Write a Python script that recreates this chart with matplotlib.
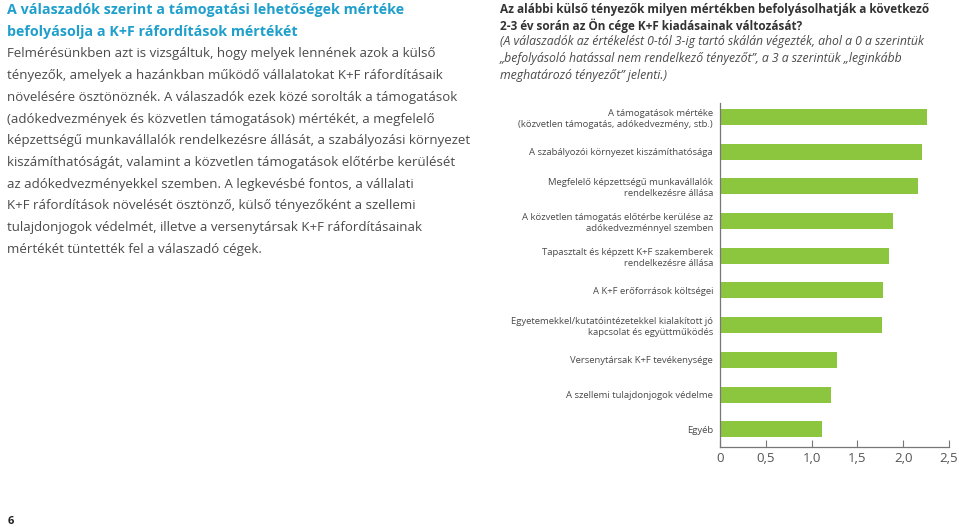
import matplotlib.pyplot as plt

categories = [
    "A támogatások mértéke\n(közvetlen támogatás, adókedvezmény, stb.)",
    "A szabályozói környezet kiszámíthatósága",
    "Megfelelő képzettségű munkavállalók\nrendelkezésre állása",
    "A közvetlen támogatás előtérbe kerülése az\nadókedvezménnyel szemben",
    "Tapasztalt és képzett K+F szakemberek\nrendelkezésre állása",
    "A K+F erőforrások költségei",
    "Egyetemekkel/kutatóintézetekkel kialakított jó\nkapcsolat és együttműködés",
    "Versenytársak K+F tevékenysége",
    "A szellemi tulajdonjogok védelme",
    "Egyéb",
]
values = [2.26, 2.21, 2.16, 1.89, 1.85, 1.78, 1.77, 1.28, 1.21, 1.11]
ticks = [0, 0.5, 1.0, 1.5, 2.0, 2.5]
tick_labels = ["0", "0,5", "1,0", "1,5", "2,0", "2,5"]

left_title = [
    "A válaszadók szerint a támogatási lehetőségek mértéke",
    "befolyásolja a K+F ráfordítások mértékét",
]
left_body = [
    "Felmérésünkben azt is vizsgáltuk, hogy melyek lennének azok a külső",
    "tényezők, amelyek a hazánkban működő vállalatokat K+F ráfordításaik",
    "növelésére ösztönöznék. A válaszadók ezek közé sorolták a támogatások",
    "(adókedvezmények és közvetlen támogatások) mértékét, a megfelelő",
    "képzettségű munkavállalók rendelkezésre állását, a szabályozási környezet",
    "kiszámíthatóságát, valamint a közvetlen támogatások előtérbe kerülését",
    "az adókedvezményekkel szemben. A legkevésbé fontos, a vállalati",
    "K+F ráfordítások növelését ösztönző, külső tényezőként a szellemi",
    "tulajdonjogok védelmét, illetve a versenytársak K+F ráfordításainak",
    "mértékét tüntették fel a válaszadó cégek.",
]
chart_title = [
    "Az alábbi külső tényezők milyen mértékben befolyásolhatják a következő",
    "2-3 év során az Ön cége K+F kiadásainak változását?",
]
chart_note = [
    "(A válaszadók az értékelést 0-tól 3-ig tartó skálán végezték, ahol a 0 a szerintük",
    "„befolyásoló hatással nem rendelkező tényezőt”, a 3 a szerintük „leginkább",
    "meghatározó tényezőt” jelenti.)",
]

plt.rcParams['font.family'] = ['Open Sans', 'DejaVu Sans']

W, H = 959, 527
fig = plt.figure(figsize=(W / 100, H / 100), dpi=100)
blue = '#1f9fcb'
grey = '#4a4a4a'
green = '#8cc63f'

# left column text
for i, line in enumerate(left_title):
    fig.text(7 / W, 1 - (10 + i * 21.7) / H, line, color=blue, fontsize=10.25,
             fontweight='bold', va='center', ha='left')
for i, line in enumerate(left_body):
    fig.text(7 / W, 1 - (54 + i * 21.7) / H, line, color=grey, fontsize=9.55,
             va='center', ha='left')
fig.text(8 / W, 1 - 521 / H, "6", color='#222222', fontsize=8,
         fontweight='bold', va='center', ha='left')

# right column headings
for i, line in enumerate(chart_title):
    fig.text(500 / W, 1 - (9.5 + i * 16.5) / H, line, color='#333333', fontsize=8.5,
             fontweight='bold', va='center', ha='left')
for i, line in enumerate(chart_note):
    fig.text(500 / W, 1 - (42 + i * 16.7) / H, line, color=grey, fontsize=8.8,
             style='italic', va='center', ha='left')

ax = fig.add_axes([720 / W, 1 - 446.7 / H, 229 / W, 343.7 / H])
y = list(range(len(categories)))
ax.barh(y, values, height=0.46, color=green)
ax.set_ylim(9.5, -0.4)
ax.set_xlim(0, 2.5)
ax.set_yticks(y)
ax.set_yticklabels(categories, fontsize=6.8, color=grey, linespacing=1.25)
ax.tick_params(axis='y', length=0, pad=5)
ax.set_xticks(ticks)
ax.set_xticklabels(tick_labels, fontsize=9.5, color='#555555')
ax.tick_params(axis='x', direction='in', length=5, color='#777777', pad=4)
for s in ['top', 'right']:
    ax.spines[s].set_visible(False)
for s in ['left', 'bottom']:
    ax.spines[s].set_color('#777777')
    ax.spines[s].set_linewidth(0.9)

fig.savefig('out.png', dpi=100)
